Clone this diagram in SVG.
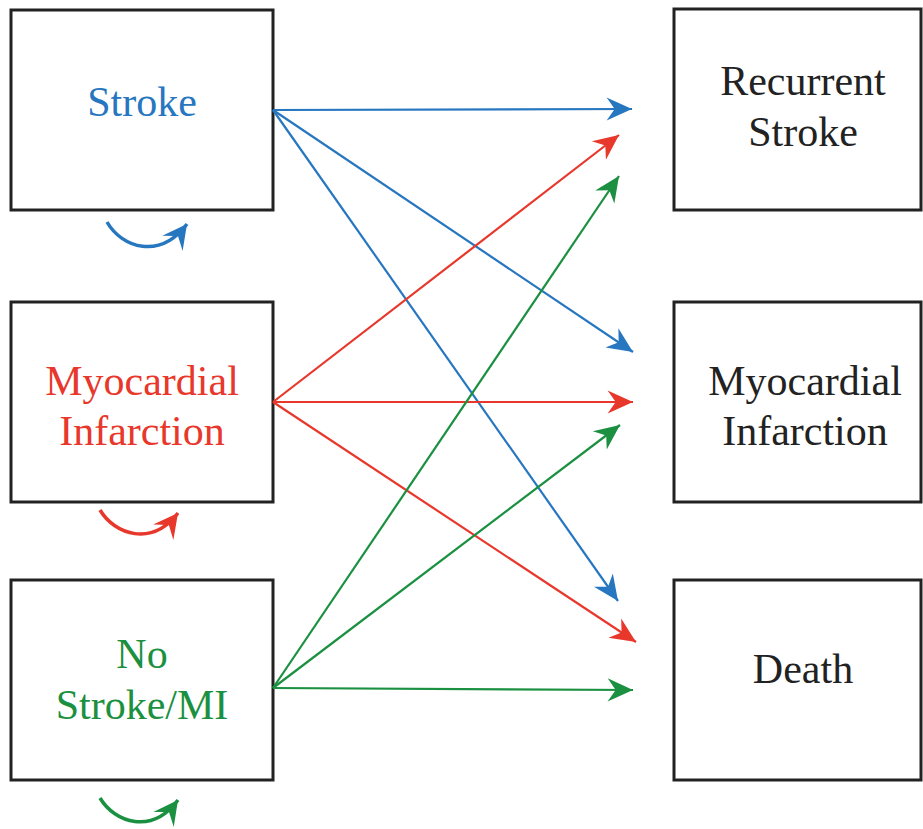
<svg xmlns="http://www.w3.org/2000/svg" width="923" height="829" viewBox="0 0 923 829">
<style>
.box{fill:#fff;stroke:#222;stroke-width:3}
.t{font-family:"Liberation Serif","Times New Roman",serif;font-size:42px;text-anchor:middle}
.blue{stroke:#2676c0}.red{stroke:#e8372b}.green{stroke:#1a9040}
.ln{fill:none;stroke-width:2.2}
.lp{fill:none;stroke-width:3.5}
</style>
<defs>
<marker id="ab" markerUnits="userSpaceOnUse" markerWidth="30" markerHeight="30" viewBox="-24 -12 26 24" refX="0" refY="0" orient="auto"><path d="M0,0 L-22,-10 L-15,0 L-22,10 Z" fill="#2676c0"/></marker>
<marker id="ar" markerUnits="userSpaceOnUse" markerWidth="30" markerHeight="30" viewBox="-24 -12 26 24" refX="0" refY="0" orient="auto"><path d="M0,0 L-22,-10 L-15,0 L-22,10 Z" fill="#e8372b"/></marker>
<marker id="ag" markerUnits="userSpaceOnUse" markerWidth="30" markerHeight="30" viewBox="-24 -12 26 24" refX="0" refY="0" orient="auto"><path d="M0,0 L-22,-10 L-15,0 L-22,10 Z" fill="#1a9040"/></marker>
<marker id="lb" markerUnits="userSpaceOnUse" markerWidth="30" markerHeight="30" viewBox="-24 -12 26 24" refX="0" refY="0" orient="auto"><path d="M0,0 L-21,-11 L-13,0 L-21,11 Z" fill="#2676c0"/></marker>
<marker id="lr" markerUnits="userSpaceOnUse" markerWidth="30" markerHeight="30" viewBox="-24 -12 26 24" refX="0" refY="0" orient="auto"><path d="M0,0 L-21,-11 L-13,0 L-21,11 Z" fill="#e8372b"/></marker>
<marker id="lg" markerUnits="userSpaceOnUse" markerWidth="30" markerHeight="30" viewBox="-24 -12 26 24" refX="0" refY="0" orient="auto"><path d="M0,0 L-21,-11 L-13,0 L-21,11 Z" fill="#1a9040"/></marker>
</defs>
<rect width="923" height="829" fill="#fff"/>
<g id="stroke"><rect class="box" x="11" y="10" width="262" height="200"/><text class="t" x="142" y="116" fill="#2676c0">Stroke</text></g>
<g id="mi"><rect class="box" x="11" y="302" width="262" height="200"/><text class="t" x="142" y="395" fill="#e8372b">Myocardial</text><text class="t" x="142" y="445" fill="#e8372b">Infarction</text></g>
<g id="nostroke"><rect class="box" x="11" y="580" width="262" height="200"/><text class="t" x="142" y="668" fill="#1a9040">No</text><text class="t" x="142" y="719" fill="#1a9040">Stroke/MI</text></g>
<g id="recurrent"><rect class="box" x="674" y="9" width="247" height="201"/><text class="t" x="803" y="95" fill="#222">Recurrent</text><text class="t" x="803" y="146" fill="#222">Stroke</text></g>
<g id="mi2"><rect class="box" x="674" y="302" width="247" height="200"/><text class="t" x="805" y="395" fill="#222">Myocardial</text><text class="t" x="805" y="445" fill="#222">Infarction</text></g>
<g id="death"><rect class="box" x="674" y="580" width="247" height="200"/><text class="t" x="803" y="683" fill="#222">Death</text></g>
<g id="connectors">
<line class="ln blue" x1="273" y1="110" x2="632" y2="109" marker-end="url(#ab)"/>
<line class="ln blue" x1="273" y1="110" x2="633" y2="352" marker-end="url(#ab)"/>
<line class="ln blue" x1="273" y1="110" x2="618" y2="601" marker-end="url(#ab)"/>
<line class="ln red" x1="273" y1="402" x2="619" y2="135" marker-end="url(#ar)"/>
<line class="ln red" x1="273" y1="402" x2="633" y2="402" marker-end="url(#ar)"/>
<line class="ln red" x1="273" y1="402" x2="636" y2="642" marker-end="url(#ar)"/>
<line class="ln green" x1="273" y1="688" x2="619" y2="176" marker-end="url(#ag)"/>
<line class="ln green" x1="273" y1="688" x2="620" y2="425" marker-end="url(#ag)"/>
<line class="ln green" x1="273" y1="688" x2="633" y2="690" marker-end="url(#ag)"/>
<path class="lp blue" d="M107,222 C122,248 160,260 187,224" marker-end="url(#lb)"/>
<path class="lp red" d="M100,510 C115,535 152,547 178,513" marker-end="url(#lr)"/>
<path class="lp green" d="M100,798 C115,823 152,835 178,800" marker-end="url(#lg)"/>
</g>
</svg>
